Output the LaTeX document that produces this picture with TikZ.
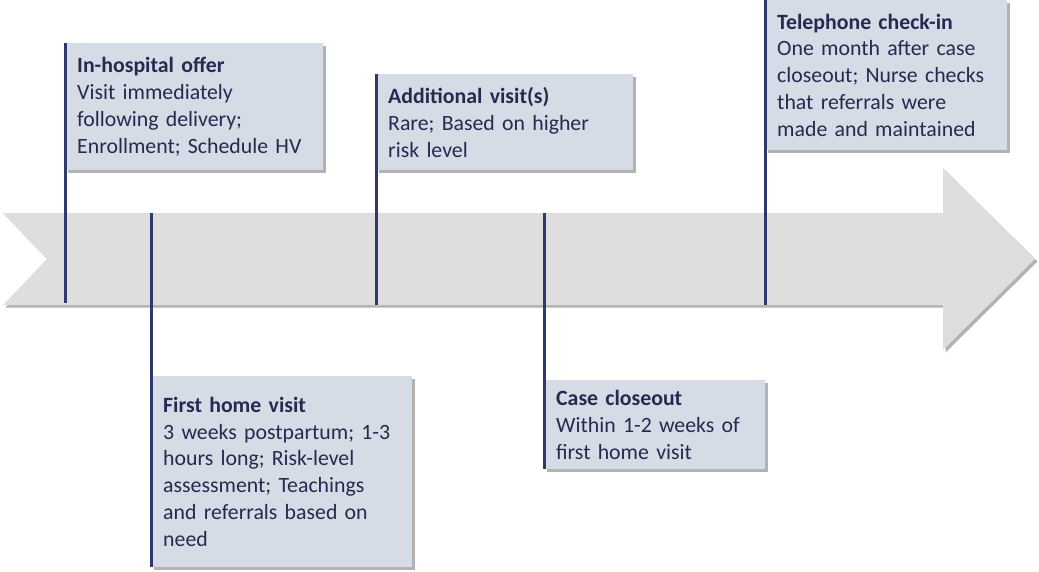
\documentclass[tikz,border=0pt]{standalone}
\usepackage{fontspec}
\setmainfont{Carlito}
\usetikzlibrary{shadows}
\definecolor{boxfill}{HTML}{D6DCE5}
\definecolor{navy}{HTML}{2E3A6B}
\definecolor{txt}{HTML}{232B50}
\definecolor{arrowfill}{HTML}{DEDEDE}
\tikzset{
  shd/.style={drop shadow={shadow xshift=2.5pt, shadow yshift=-2.5pt, fill=black, opacity=0.3}},
  infobox/.style={shd, fill=boxfill, anchor=north west, inner xsep=12pt, inner ysep=0pt,
    align=left, text=txt, font=\fontsize{21.8}{26.8}\selectfont},
  stem/.style={draw=navy, line width=3pt},
}
\begin{document}
\begin{tikzpicture}[x=1pt,y=-1pt]
\useasboundingbox (0,0) rectangle (1039,571);
% timeline arrow
\path[shd, fill=arrowfill] (3,213) -- (943,213) -- (943,168) -- (1035,259) -- (943,350)
  -- (943,305) -- (3,305) -- (47,259) -- cycle;
% boxes
\node[infobox, text width=234pt, minimum height=127pt] (b1) at (65,43)
  {\textbf{In-hospital offer}\\Visit immediately\\following delivery;\\Enrollment; Schedule HV};
\node[infobox, text width=237pt, minimum height=191pt] (b2) at (151,376)
  {\textbf{First home visit}\\3 weeks postpartum; 1-3\\hours long; Risk-level\\assessment; Teachings\\and referrals based on\\need};
\node[infobox, text width=233pt, minimum height=96pt] (b3) at (376,74)
  {\textbf{Additional visit(s)}\\Rare; Based on higher\\risk level};
\node[infobox, text width=197pt, minimum height=89pt] (b4) at (544,380)
  {\textbf{Case closeout}\\Within 1-2 weeks of\\first home visit};
\node[infobox, text width=218pt, minimum height=150pt] (b5) at (765,0)
  {\textbf{Telephone check-in}\\One month after case\\closeout; Nurse checks\\that referrals were\\made and maintained};
% stems
\coordinate (e1) at (65,303);
\coordinate (e2) at (151,213);
\coordinate (e3) at (376,305);
\coordinate (e4) at (544,213);
\coordinate (e5) at (765,305);
\draw[stem] (b1.north west) -- (e1);
\draw[stem] (e2) -- (b2.south west);
\draw[stem] (b3.north west) -- (e3);
\draw[stem] (e4) -- (b4.south west);
\draw[stem] (b5.north west) -- (e5);
\end{tikzpicture}
\end{document}
